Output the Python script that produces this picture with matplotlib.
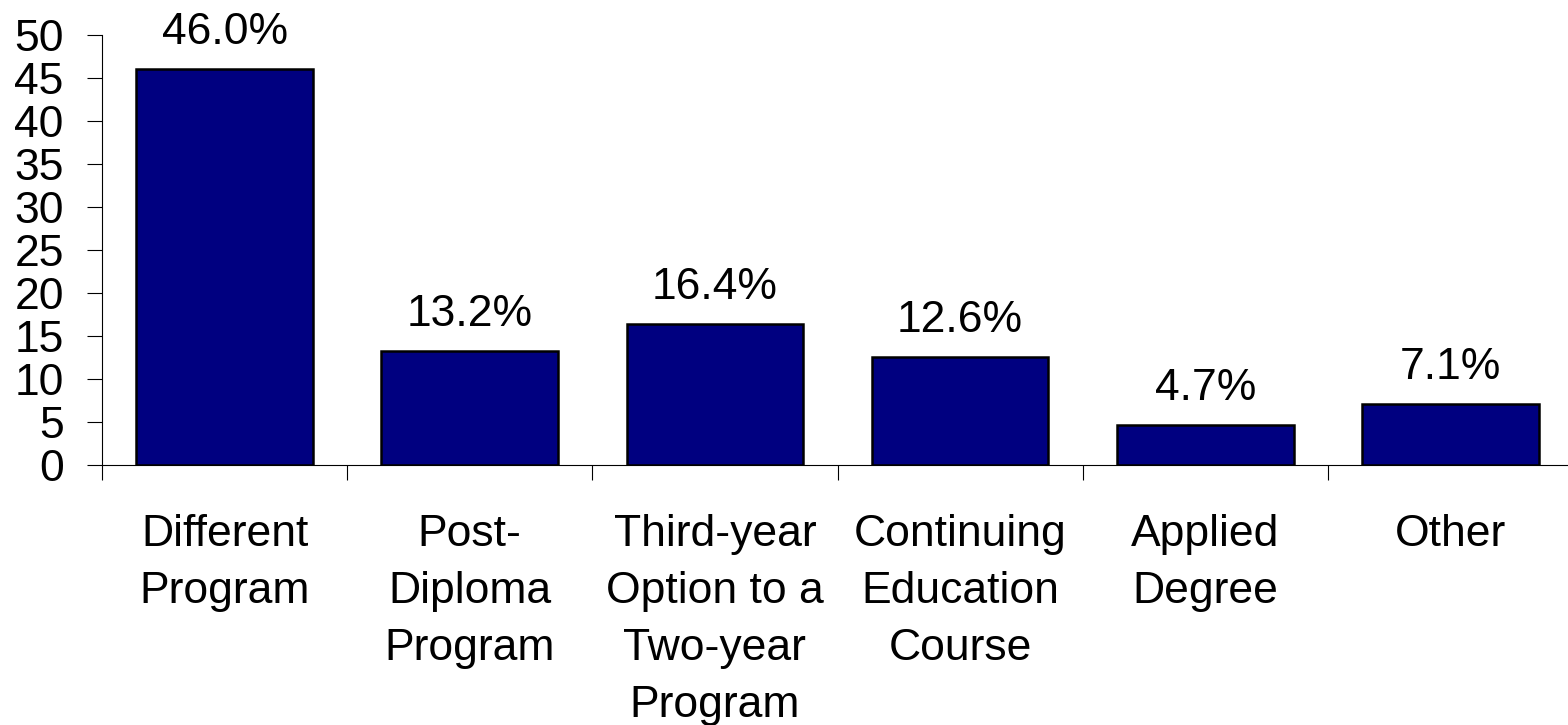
import matplotlib
matplotlib.use("Agg")
import matplotlib.pyplot as plt
import numpy as np

categories = ["Different\nProgram", "Post-\nDiploma\nProgram", "Third-year\nOption to a\nTwo-year\nProgram",
              "Continuing\nEducation\nCourse", "Applied\nDegree", "Other"]
values = [46.0, 13.2, 16.4, 12.6, 4.7, 7.1]
value_labels = ["46.0%", "13.2%", "16.4%", "12.6%", "4.7%", "7.1%"]
yticks = [0, 5, 10, 15, 20, 25, 30, 35, 40, 45, 50]

plt.rcParams['font.family'] = ['Liberation Sans', 'DejaVu Sans']
W, H = 1568, 725
fig = plt.figure(figsize=(W / 100, H / 100), dpi=100)
left, right, top, bottom = 102, 1573, 35, 465
ax = fig.add_axes([left / W, 1 - bottom / H, (right - left) / W, (bottom - top) / H])

FS = 32
x = np.arange(len(categories))
ax.bar(x, values, width=0.72, color="#000080", edgecolor="black", linewidth=1.8, zorder=3)
for xi, v, lab in zip(x, values, value_labels):
    ax.annotate(lab, (xi, v), xytext=(0, 18), textcoords="offset points",
                ha="center", va="baseline", fontsize=FS)

ax.set_xlim(-0.5, len(categories) - 0.5)
ax.set_ylim(0, 50)
ax.set_yticks(yticks)
ax.set_yticklabels([str(t) for t in yticks], fontsize=FS)
ax.tick_params(axis="y", length=10.5, width=0.8, pad=17, direction="out")

ax.set_xticks(np.arange(len(categories) + 1) - 0.5)
ax.set_xticklabels([])
ax.set_xticks(x, minor=True)
ax.set_xticklabels(categories, minor=True, fontsize=FS, linespacing=1.5)
ax.tick_params(axis="x", which="major", length=10.5, width=0.8, direction="out")
ax.tick_params(axis="x", which="minor", length=0, pad=35)

for s in ["top", "right"]:
    ax.spines[s].set_visible(False)
ax.spines["left"].set_linewidth(0.8)
ax.spines["bottom"].set_linewidth(0.8)

fig.savefig("out.png", dpi=100)
